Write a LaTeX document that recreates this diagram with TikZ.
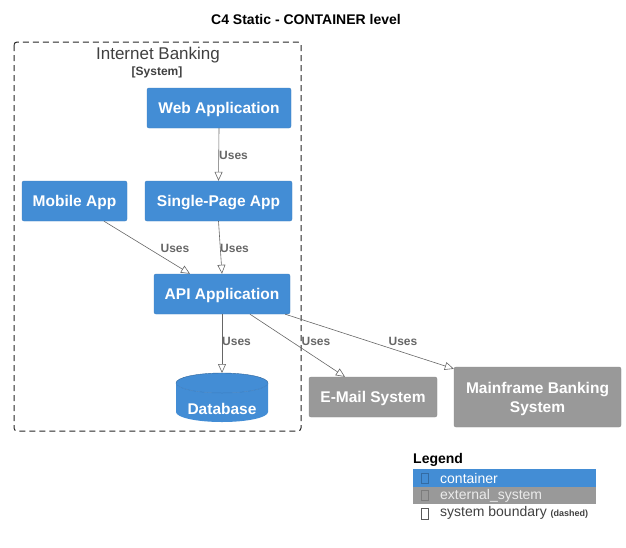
\documentclass[tikz,border=0pt]{standalone}
\usepackage{fontspec}
\setmainfont{Liberation Sans}
\usetikzlibrary{arrows.meta}

\definecolor{contblue}{HTML}{438DD5}
\definecolor{contedge}{HTML}{3C7EC0}
\definecolor{extgrey}{HTML}{999999}
\definecolor{extedge}{HTML}{8A8A8A}
\definecolor{relgrey}{HTML}{666666}

\tikzset{
  container/.style={draw=contedge, fill=contblue, rounded corners=2pt, text=white,
    font=\fontsize{15.5}{18}\selectfont\bfseries, align=center, inner sep=0pt,
    text height=11.1pt, text depth=0pt},
  extsys/.style={draw=extedge, fill=extgrey, rounded corners=2pt, text=white,
    font=\fontsize{15.5}{18}\selectfont\bfseries, align=center, inner sep=0pt,
    text height=11.1pt, text depth=0pt},
  uses/.style={draw=relgrey, line width=0.6pt, -{Triangle[open, length=9pt, width=8pt]}},
  useslabel/.style={text=relgrey, font=\fontsize{12}{14}\selectfont\bfseries, inner sep=0pt},
  legendtext/.style={anchor=west, inner sep=0pt, font=\fontsize{14}{16}\selectfont}
}

\begin{document}
\begin{tikzpicture}[x=1pt, y=-1pt]
\useasboundingbox (0,0) rectangle (626,547);

% draw the title
\node[font=\fontsize{14}{16}\selectfont\bfseries] (title) at (306,19) {C4 Static - CONTAINER level};

% draw the system boundary
\draw[black!85, line width=1pt, dash pattern=on 6pt off 4pt, rounded corners=3pt] (14,42) rectangle (301,431);
\node[text=black!75, font=\fontsize{17}{19}\selectfont] (ibname) at (158,55) {Internet Banking};
\node[text=black!75, font=\fontsize{12}{14}\selectfont\bfseries] (ibtype) at (157,72) {[System]};

% draw the containers
\node[container, minimum width=144pt, minimum height=40pt] (webapp) at (219,108) {Web Application};
\node[container, minimum width=147pt, minimum height=40pt] (spa) at (218.5,201) {Single-Page App};
\node[container, minimum width=105pt, minimum height=40pt] (mobile) at (74.5,201) {Mobile App};
\node[container, minimum width=136pt, minimum height=40pt] (api) at (222,294) {API Application};

% draw the database cylinder
\fill[contblue] (176,383) arc[start angle=180, end angle=360, x radius=46, y radius=-10]
  -- (268,412) arc[start angle=0, end angle=-180, x radius=46, y radius=-10] -- cycle;
\fill[contblue] (222,383) ellipse[x radius=46, y radius=10];
\draw[contedge, line width=0.5pt] (176,383) arc[start angle=180, end angle=0, x radius=46, y radius=10];
\draw[contedge!80!black, line width=0.4pt] (176,383) arc[start angle=180, end angle=360, x radius=46, y radius=10];
\coordinate (dbtop) at (222,373);
\node[text=white, font=\fontsize{15.5}{18}\selectfont\bfseries, inner sep=0pt,
  text height=11.1pt, text depth=0pt] (db) at (222,408.5) {Database};

% draw the external systems
\node[extsys, minimum width=128pt, minimum height=40pt] (email) at (373,397) {E-Mail System};
\node[draw=extedge, fill=extgrey, rounded corners=2pt, minimum width=167pt, minimum height=60pt] (mainframe) at (537.5,397) {};
\node[text=white, font=\fontsize{15.5}{19.5}\selectfont\bfseries, align=center, inner sep=0pt] (mfname) at (537.5,399) {Mainframe Banking\\System};

% draw the relations
\draw[uses] (webapp.south) -- (spa.north);
\draw[uses] (spa.south) -- (api.north);
\draw[uses] ([xshift=29.5pt]mobile.south) -- ([xshift=-32pt]api.north);
\draw[uses] (api.south) -- (dbtop);
\draw[uses] ([xshift=28pt]api.south) -- ([xshift=-28pt]email.north);
\draw[uses] ([xshift=-5pt]api.south east) -- ([yshift=-2pt]mainframe.north west);

% draw the relation labels
\node[useslabel, anchor=west] (l1) at (219,155) {Uses};
\node[useslabel, anchor=west] (l2) at (220,248) {Uses};
\node[useslabel] (l3) at (175,248) {Uses};
\node[useslabel, anchor=west] (l4) at (222,341) {Uses};
\node[useslabel] (l5) at (316,341) {Uses};
\node[useslabel] (l6) at (403,341) {Uses};

% draw the legend
\node[anchor=west, inner sep=0pt, font=\fontsize{14}{16}\selectfont\bfseries] (legend) at (413,460) {Legend};
\fill[contblue] (413,469) rectangle (596,487);
\fill[extgrey] (413,487) rectangle (596,504);
\draw[contedge!85!black, line width=0.5pt] (421,473) rectangle (428,483);
\draw[extedge!90!black, line width=0.5pt] (421,490.5) rectangle (428,500.5);
\draw[black!65, line width=0.6pt] (421,508) rectangle (428,519);
\node[legendtext, text=white] (lcont) at (440,478) {container};
\node[legendtext, text=white!92!black] (lext) at (440,495.5) {external\_system};
\node[legendtext, text=black!75] (lbound) at (440,513) {system boundary \fontsize{9}{11}\selectfont\bfseries(dashed)};

\end{tikzpicture}
\end{document}
